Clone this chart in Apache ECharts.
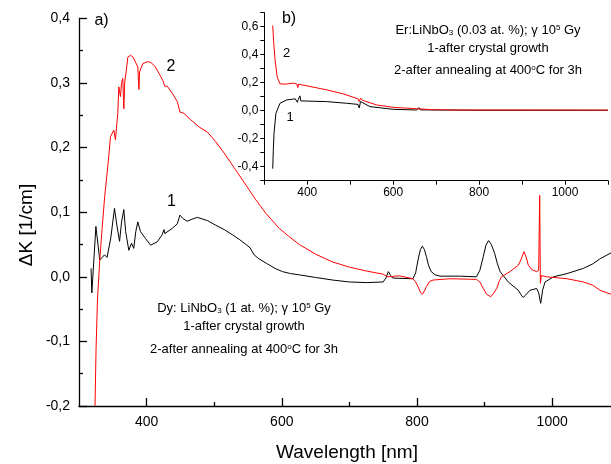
<!DOCTYPE html>
<html>
<head>
<meta charset="utf-8">
<script src="https://cdn.jsdelivr.net/npm/echarts@6/dist/echarts.min.js"></script>
<style>html,body{margin:0;padding:0;background:#fff}#c{width:611px;height:464px}</style>
</head>
<body>
<div id="c"></div>
<script>
// ---- data (wavelength nm, ΔK 1/cm) ----
const mainCurve1 = [[317.8,0.013],[319,-0.025],[325,0.078],[330.7,0.026],[337.7,0.034],[341.5,0.030],[347,0.06],[352.5,0.106],[356,0.08],[360,0.055],[363,0.085],[366.3,0.104],[369,0.07],[373.7,0.041],[377.7,0.052],[381,0.044],[384,0.07],[387,0.085],[391,0.07],[398.5,0.059],[406,0.049],[415.7,0.054],[423,0.065],[425.7,0.073],[427,0.067],[438,0.075],[445.4,0.082],[449.4,0.0955],[453.9,0.09],[460,0.086],[467,0.089],[475,0.092],[490,0.087],[502,0.080],[515,0.073],[527,0.065],[537,0.058],[547,0.050],[553,0.045],[559,0.034],[566,0.028],[577,0.021],[590,0.013],[601,0.008],[613,0.005],[626,0.003],[650,-0.001],[675,-0.005],[700,-0.008],[725,-0.009],[750,-0.008],[754,-0.002],[757.6,0.008],[761,0.002],[764,-0.002],[794,-0.003],[798,0.006],[801.5,0.026],[805,0.042],[808,0.0475],[811,0.042],[814,0.031],[817,0.018],[821,0.008],[827,0.003],[834,0.001],[863,0.001],[888,0.0],[893,0.01],[898,0.031],[902,0.049],[906,0.056],[910,0.05],[915,0.036],[919,0.02],[923,0.008],[935,-0.008],[950,-0.021],[954,-0.028],[957,-0.032],[961,-0.028],[967,-0.021],[977,-0.018],[980,-0.025],[983,-0.041],[986,-0.02],[989.5,-0.008],[1002,0.0],[1022,0.005],[1046,0.013],[1060,0.02],[1071,0.028],[1087,0.037]];
const mainCurve2 = [[323.7,-0.2],[325.2,-0.113],[327.3,-0.036],[330.7,0.026],[334,0.072],[338,0.124],[343,0.175],[346.6,0.217],[351.5,0.227],[354,0.212],[355.5,0.232],[357.4,0.253],[358.9,0.294],[361.4,0.279],[362.8,0.299],[364.8,0.307],[366.3,0.26],[367.7,0.302],[369.7,0.317],[372.2,0.34],[376.3,0.343],[380,0.34],[382.6,0.338],[384.6,0.33],[387,0.325],[388.6,0.29],[389.6,0.317],[392,0.324],[394.5,0.33],[401,0.333],[406,0.332],[412.3,0.326],[418.2,0.315],[424,0.304],[427,0.295],[430.6,0.295],[438,0.284],[445.4,0.271],[449.4,0.255],[455.3,0.253],[465.3,0.243],[477.6,0.232],[490,0.224],[502.4,0.209],[517.2,0.188],[532,0.165],[547,0.142],[561.7,0.119],[576.6,0.098],[596.3,0.075],[611,0.062],[626,0.05],[650,0.035],[675,0.023],[700,0.015],[725,0.009],[750,0.004],[757,0.0],[774,0.0015],[794,-0.003],[798,-0.008],[801.5,-0.015],[805,-0.024],[808,-0.027],[811,-0.022],[814,-0.015],[819,-0.007],[824,-0.005],[848.5,-0.003],[888,-0.004],[893,-0.008],[898,-0.018],[903,-0.027],[909,-0.031],[913,-0.026],[918,-0.018],[922,-0.006],[925,0.0],[937.5,0.008],[950,0.018],[954,0.027],[958.3,0.039],[961,0.032],[964.7,0.018],[970,0.011],[977,0.008],[980,0.01],[981.5,0.126],[982.5,-0.01],[984,0.002],[992,0.0],[1022,-0.003],[1046,-0.008],[1060,-0.013],[1071,-0.021],[1087,-0.027]];
const insetCurve1 = [[319.6,-0.414],[321,-0.28],[322.6,-0.163],[327,-0.019],[336.5,0.053],[352,0.077],[365,0.082],[372,0.085],[377,0.06],[379,0.08],[383,0.106],[385,0.07],[387,0.077],[445,0.065],[491.6,0.053],[518,0.045],[521,0.02],[524,0.065],[527,0.06],[546,0.029],[600,0.01],[655,0.005],[660,0.022],[663,0.006],[800,0.003],[1100,0.003]];
const insetCurve2 = [[319.6,0.609],[322,0.48],[325,0.365],[330,0.24],[336.5,0.192],[350,0.19],[367.5,0.197],[376,0.19],[378,0.165],[380,0.19],[387,0.185],[445,0.149],[484,0.12],[518,0.085],[521,0.065],[524,0.09],[528,0.075],[561.7,0.041],[600,0.024],[655,0.014],[693,0.007],[750,0.005],[900,0.005],[1100,0.004]];
const mainXMajorTicks = [400, 600, 800, 1000];
const mainXMinorTicks = [500, 700, 900];

const FONT = 'Liberation Sans, Arial, sans-serif';
const chart = echarts.init(document.getElementById('c'));
const comma = v => (Math.abs(v) < 1e-9 ? 0 : v).toFixed(1).replace('.', ',');

const richStyles = {
  t: {fontSize: 13, fontFamily: FONT, fill: '#000', color: '#000'},
  sup: {fontSize: 8, fontFamily: FONT, verticalAlign: 'top', color: '#000'},
  sub: {fontSize: 8, fontFamily: FONT, verticalAlign: 'bottom', color: '#000'}
};
function txt(x, y, text, size, extra) {
  return Object.assign({type: 'text', x: x, y: y, silent: true,
    style: {text: text, fontSize: size, fontFamily: FONT, fill: '#000', align: 'center', verticalAlign: 'middle'}}, extra || {});
}
function rich(x, y, text) {
  return {type: 'text', x: x, y: y, silent: true,
    style: {text: text, rich: richStyles, fontSize: 13, fontFamily: FONT, fill: '#000', align: 'center', verticalAlign: 'middle'}};
}

const option = {
  animation: false,
  backgroundColor: '#fff',
  grid: [
    {left: 79, right: 0, top: 18.4, bottom: 58},
    {left: 264.3, right: 1.5, top: 12.7, bottom: 283.3}
  ],
  xAxis: [
    {type: 'value', gridIndex: 0, min: 300, max: 1087, interval: 100, position: 'bottom',
      axisLine: {show: true, onZero: false, lineStyle: {color: '#000', width: 1.3}},
      axisTick: {show: true, inside: true, length: 8, customValues: mainXMajorTicks, lineStyle: {color: '#000', width: 1.3}},
      axisLabel: {customValues: mainXMajorTicks, color: '#000', fontSize: 14, fontFamily: FONT, margin: 9, formatter: v => String(v)},
      splitLine: {show: false}},
    {type: 'value', gridIndex: 0, min: 300, max: 1087, interval: 100, position: 'bottom', offset: 0,
      axisLine: {show: false, onZero: false},
      axisTick: {show: true, inside: true, length: 4, customValues: mainXMinorTicks, lineStyle: {color: '#000', width: 1.3}},
      axisLabel: {show: false}, splitLine: {show: false}},
    {type: 'value', gridIndex: 1, min: 300, max: 1100, interval: 100, position: 'bottom',
      axisLine: {show: true, onZero: false, lineStyle: {color: '#000', width: 1}},
      axisTick: {show: true, inside: false, length: 4, lineStyle: {color: '#000'}},
      axisLabel: {color: '#000', fontSize: 12, fontFamily: FONT, margin: 6,
        formatter: v => (v % 200 === 0 && v >= 400 && v <= 1000) ? String(v) : ''},
      splitLine: {show: false}}
  ],
  yAxis: [
    {type: 'value', gridIndex: 0, min: -0.2, max: 0.4, interval: 0.1,
      axisLine: {show: true, onZero: false, lineStyle: {color: '#000', width: 1.3}},
      axisTick: {show: true, inside: true, length: 8, lineStyle: {color: '#000', width: 1.3}},
      minorTick: {show: true, splitNumber: 2, length: 4, lineStyle: {color: '#000', width: 1.3}},
      axisLabel: {color: '#000', fontSize: 14, fontFamily: FONT, margin: 9, formatter: comma},
      splitLine: {show: false}, minorSplitLine: {show: false}},
    {type: 'value', gridIndex: 1, min: -0.5, max: 0.7, interval: 0.1,
      axisLine: {show: true, onZero: false, lineStyle: {color: '#000', width: 1}},
      axisTick: {show: true, inside: false, length: 4, lineStyle: {color: '#000'}},
      axisLabel: {color: '#000', fontSize: 12, fontFamily: FONT, margin: 6,
        formatter: v => { const k = Math.round(v * 10); return (k % 2 === 0) ? comma(k / 10) : ''; }},
      splitLine: {show: false}}
  ],
  series: [
    {type: 'line', xAxisIndex: 0, yAxisIndex: 0, data: mainCurve1, showSymbol: false, symbol: 'none', lineStyle: {color: '#000', width: 1}},
    {type: 'line', xAxisIndex: 0, yAxisIndex: 0, data: mainCurve2, showSymbol: false, symbol: 'none', lineStyle: {color: '#ff0000', width: 1}},
    {type: 'line', xAxisIndex: 2, yAxisIndex: 1, data: insetCurve1, showSymbol: false, symbol: 'none', lineStyle: {color: '#000', width: 1}},
    {type: 'line', xAxisIndex: 2, yAxisIndex: 1, data: insetCurve2, showSymbol: false, symbol: 'none', lineStyle: {color: '#ff0000', width: 1}}
  ],
  graphic: [
    txt(27, 225, 'ΔK [1/cm]', 19, {rotation: Math.PI / 2}),
    txt(347, 453, 'Wavelength [nm]', 19),
    txt(101.5, 21, 'a)', 16),
    txt(289, 18.5, 'b)', 16),
    txt(171, 67, '2', 16),
    txt(171.5, 202, '1', 16),
    txt(286.5, 53.5, '2', 13),
    txt(290, 117, '1', 13),
    rich(488, 30.7, '{t|Er:LiNbO}{sub|3}{t| (0.03 at. %); γ 10}{sup|5}{t| Gy}'),
    txt(488, 48.3, '1-after crystal growth', 13),
    rich(488, 70.7, '{t|2-after annealing at 400}{sup|o}{t|C for 3h}'),
    rich(244, 308, '{t|Dy: LiNbO}{sub|3}{t| (1 at. %); γ 10}{sup|5}{t| Gy}'),
    txt(244, 326.7, '1-after crystal growth', 13),
    rich(244, 349, '{t|2-after annealing at 400}{sup|o}{t|C for 3h}')
  ]
};
chart.setOption(option);
</script>
</body>
</html>
